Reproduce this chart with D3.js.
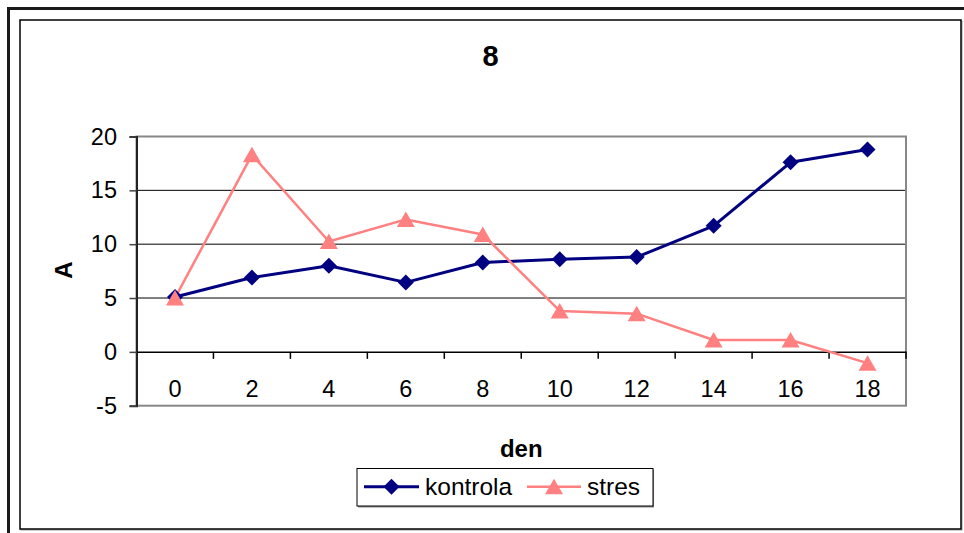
<!DOCTYPE html>
<html>
<head>
<meta charset="utf-8">
<script src="https://cdn.jsdelivr.net/npm/d3@7"></script>
<style>
  body { margin: 0; background: #fff; }
  svg { display: block; font-family: Arial, "Liberation Sans", sans-serif; }
</style>
</head>
<body>
<svg id="chart" width="964" height="533"></svg>
<script>
// data
const days = ["0", "2", "4", "6", "8", "10", "12", "14", "16", "18"];
const kontrola = [5.1, 6.9, 8.0, 6.45, 8.3, 8.6, 8.8, 11.7, 17.6, 18.8];
const stres = [5.0, 18.3, 10.25, 12.3, 10.9, 3.8, 3.55, 1.1, 1.1, -1.05];
const yTicks = [-5, 0, 5, 10, 15, 20];

const seriesList = [
  {name: "kontrola", values: kontrola, color: "#000080", width: 3, marker: "diamond"},
  {name: "stres", values: stres, color: "#FF8080", width: 2.5, marker: "triangle"}
];

const plot = {left: 136.5, right: 906, top: 136.5, bottom: 405.7};

const svg = d3.select("#chart");

// outer frame and chart box
svg.append("path")
  .attr("d", "M8.5,540V8.5H970")
  .attr("fill", "none")
  .attr("stroke", "#1a1a1a")
  .attr("stroke-width", 3);
svg.append("rect")
  .attr("x", 21).attr("y", 21).attr("width", 941).attr("height", 509)
  .attr("fill", "none").attr("stroke", "#999").attr("stroke-width", 1);
svg.append("rect")
  .attr("x", 20).attr("y", 20).attr("width", 941).attr("height", 509)
  .attr("fill", "#fff").attr("stroke", "#000").attr("stroke-width", 1.5);

const x = d3.scaleBand().domain(days).range([plot.left, plot.right]).padding(0);
const y = d3.scaleLinear().domain([-5, 20]).range([plot.bottom, plot.top]);
const cx = d => x(d) + x.bandwidth() / 2;

// gridlines
svg.append("g")
  .selectAll("line")
  .data(yTicks.filter(t => t > 0 && t < 20))
  .join("line")
  .attr("x1", plot.left).attr("x2", plot.right)
  .attr("y1", d => y(d)).attr("y2", d => y(d))
  .attr("stroke", "#000").attr("stroke-width", 1);

// plot area border
svg.append("rect")
  .attr("x", plot.left).attr("y", plot.top)
  .attr("width", plot.right - plot.left).attr("height", plot.bottom - plot.top)
  .attr("fill", "none").attr("stroke", "#888").attr("stroke-width", 2);

// y axis
const yAxis = svg.append("g")
  .attr("transform", "translate(" + plot.left + ",0)")
  .call(d3.axisLeft(y).tickValues(yTicks).tickSize(7).tickPadding(12.5).tickFormat(d => String(d)));
yAxis.select(".domain").attr("stroke", "#222").attr("stroke-width", 2);
yAxis.selectAll(".tick line").attr("stroke", "#444").attr("stroke-width", 1.5);
yAxis.selectAll(".tick text")
  .attr("font-size", 23.5).attr("fill", "#000")
  .attr("font-family", "Arial, 'Liberation Sans', sans-serif");

// x axis sits on zero
const xAxis = svg.append("g")
  .attr("transform", "translate(0," + y(0) + ")")
  .call(d3.axisBottom(x).tickSize(0).tickPadding(28.5));
xAxis.select(".domain").attr("stroke", "#000").attr("stroke-width", 1.5);
xAxis.selectAll(".tick text")
  .attr("font-size", 23.5).attr("fill", "#000")
  .attr("font-family", "Arial, 'Liberation Sans', sans-serif");

// category boundary ticks
xAxis.append("g")
  .selectAll("line")
  .data(d3.range(1, days.length + 1))
  .join("line")
  .attr("x1", i => plot.left + i * x.step())
  .attr("x2", i => plot.left + i * x.step())
  .attr("y1", 0).attr("y2", 7)
  .attr("stroke", "#000").attr("stroke-width", 1.5);

// marker shapes
function markerPath(type) {
  if (type === "diamond") return "M0,-8L8,0L0,8L-8,0Z";
  return "M0,-8L9,7.5L-9,7.5Z";
}

const line = d3.line().x((d, i) => cx(days[i])).y(d => y(d));

seriesList.forEach(s => {
  svg.append("path")
    .datum(s.values)
    .attr("d", line)
    .attr("fill", "none")
    .attr("stroke", s.color)
    .attr("stroke-width", s.width)
    .attr("stroke-linejoin", "round");
});

seriesList.forEach(s => {
  svg.append("g")
    .selectAll("path")
    .data(s.values)
    .join("path")
    .attr("transform", (d, i) => "translate(" + cx(days[i]) + "," + y(d) + ")")
    .attr("d", markerPath(s.marker))
    .attr("fill", s.color);
});

// title and axis titles
svg.append("text")
  .attr("x", 490.5).attr("y", 65.5)
  .attr("text-anchor", "middle")
  .attr("font-size", 29).attr("font-weight", "bold")
  .text("8");

svg.append("text")
  .attr("x", (plot.left + plot.right) / 2).attr("y", 457)
  .attr("text-anchor", "middle")
  .attr("font-size", 24).attr("font-weight", "bold")
  .text("den");

svg.append("text")
  .attr("transform", "translate(71.5," + (y(7.5) - 1) + ") rotate(-90)")
  .attr("text-anchor", "middle")
  .attr("font-size", 24).attr("font-weight", "bold")
  .text("A");

// legend
const legend = svg.append("g");
legend.append("rect")
  .attr("x", 358).attr("y", 469.5).attr("width", 296).attr("height", 38)
  .attr("fill", "#888");
legend.append("rect")
  .attr("x", 357).attr("y", 468.5).attr("width", 296).attr("height", 37.5)
  .attr("fill", "#fff").attr("stroke", "#000").attr("stroke-width", 1);

const legendItems = [
  {s: seriesList[0], x0: 364, x1: 419, tx: 425},
  {s: seriesList[1], x0: 527, x1: 581, tx: 587}
];
const ly = 486.7;
legendItems.forEach(it => {
  legend.append("line")
    .attr("x1", it.x0).attr("x2", it.x1).attr("y1", ly).attr("y2", ly)
    .attr("stroke", it.s.color).attr("stroke-width", it.s.width);
  legend.append("path")
    .attr("transform", "translate(" + (it.x0 + it.x1) / 2 + "," + ly + ")")
    .attr("d", markerPath(it.s.marker))
    .attr("fill", it.s.color);
  legend.append("text")
    .attr("x", it.tx).attr("y", ly + 8.5)
    .attr("font-size", 24.5)
    .text(it.s.name);
});
</script>
</body>
</html>
